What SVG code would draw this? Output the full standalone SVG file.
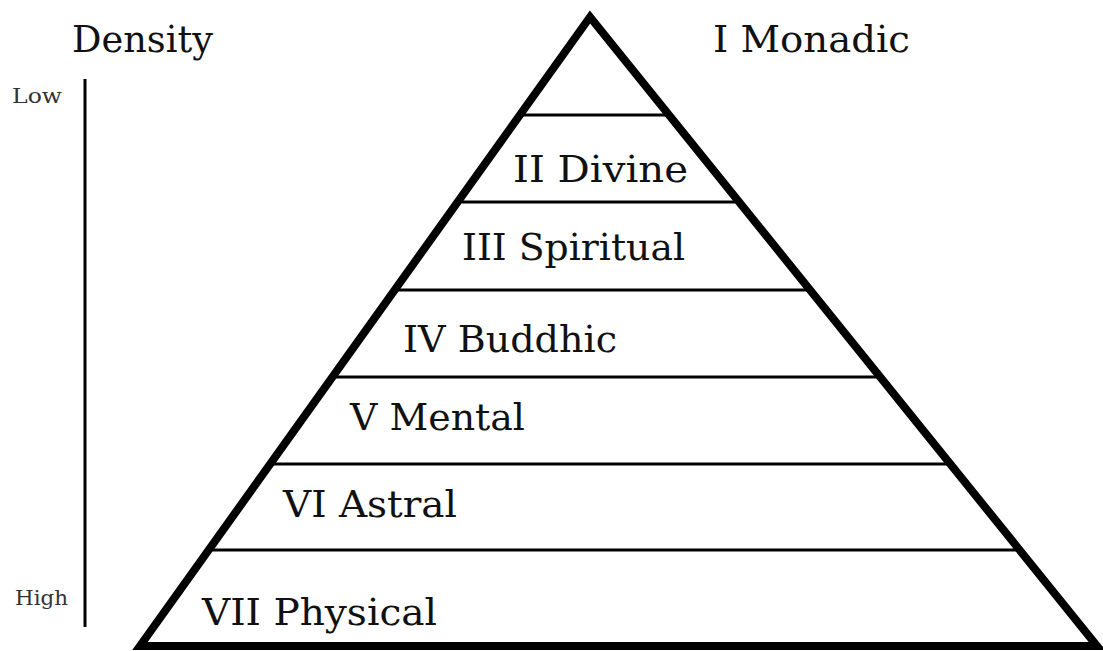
<svg xmlns="http://www.w3.org/2000/svg" width="1103" height="651" viewBox="0 0 1103 651">
  <style>
    .lbl { font-family: "DejaVu Serif", "Liberation Serif", serif; font-size: 38px; fill: #111; }
    .sm { font-family: "DejaVu Serif", "Liberation Serif", serif; font-size: 21px; fill: #333; }
    .div { stroke: #000; stroke-width: 3; }
    .pyr { fill: none; stroke: #000; stroke-width: 8; stroke-linejoin: miter; }
  </style>
  <rect width="1103" height="651" fill="#fff"/>
  <g id="axis">
    <text class="lbl" x="72" y="52" textLength="141" lengthAdjust="spacingAndGlyphs">Density</text>
    <text class="sm" x="12" y="103" textLength="50" lengthAdjust="spacingAndGlyphs">Low</text>
    <text class="sm" x="15" y="605" textLength="53" lengthAdjust="spacingAndGlyphs">High</text>
  </g>
  <g id="connectors">
    <line x1="85" y1="79" x2="85" y2="627" stroke="#000" stroke-width="3"/>
  </g>
  <g id="level1">
    <line class="div" x1="518" y1="115" x2="669" y2="115"/>
    <text class="lbl" x="713" y="52" textLength="197" lengthAdjust="spacingAndGlyphs">I Monadic</text>
  </g>
  <g id="level2">
    <line class="div" x1="456" y1="202" x2="739" y2="202"/>
    <text class="lbl" x="513" y="182" textLength="175" lengthAdjust="spacingAndGlyphs">II Divine</text>
  </g>
  <g id="level3">
    <line class="div" x1="393" y1="290" x2="810" y2="290"/>
    <text class="lbl" x="462" y="260" textLength="223" lengthAdjust="spacingAndGlyphs">III Spiritual</text>
  </g>
  <g id="level4">
    <line class="div" x1="331" y1="377" x2="880" y2="377"/>
    <text class="lbl" x="403" y="352" textLength="214" lengthAdjust="spacingAndGlyphs">IV Buddhic</text>
  </g>
  <g id="level5">
    <line class="div" x1="269" y1="464" x2="950" y2="464"/>
    <text class="lbl" x="350" y="430" textLength="175" lengthAdjust="spacingAndGlyphs">V Mental</text>
  </g>
  <g id="level6">
    <line class="div" x1="207" y1="550" x2="1019" y2="550"/>
    <text class="lbl" x="283" y="517" textLength="174" lengthAdjust="spacingAndGlyphs">VI Astral</text>
  </g>
  <g id="level7">
    <text class="lbl" x="202" y="625" textLength="235" lengthAdjust="spacingAndGlyphs">VII Physical</text>
  </g>
  <g id="pyramid">
    <polygon class="pyr" points="590,17 1097,646 140,646"/>
  </g>
</svg>
